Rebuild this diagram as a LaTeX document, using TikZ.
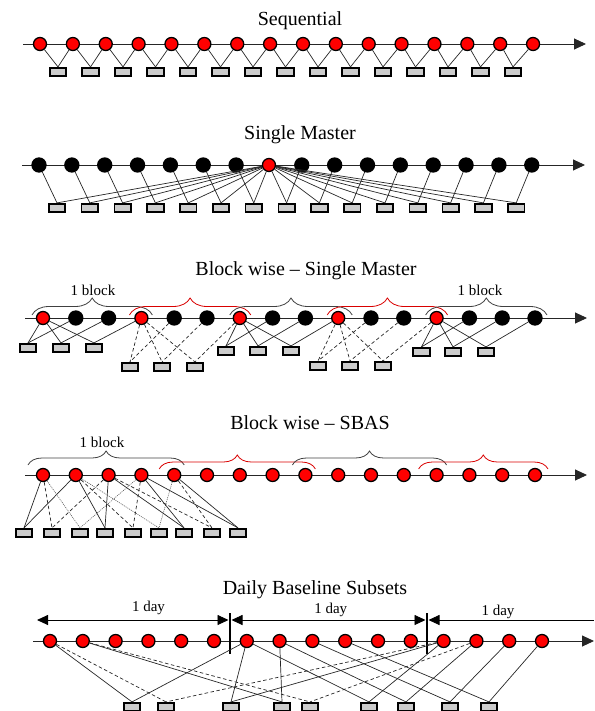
\documentclass[tikz,border=0pt]{standalone}
\usepackage{fontspec}
\setmainfont{Liberation Serif}
\usetikzlibrary{arrows.meta,decorations.pathreplacing,calc}
\begin{document}
\begin{tikzpicture}[x=1pt,y=-1pt,
  rc/.style={circle,draw=black,line width=1.3pt,fill=red,minimum size=13pt,inner sep=0pt},
  bc/.style={circle,draw=black,line width=1.3pt,fill=black,minimum size=14pt,inner sep=0pt},
  pbox/.style={rectangle,draw=black,line width=1.7pt,fill=black!20,minimum width=16.5pt,minimum height=8.5pt,inner sep=0pt},
  axis/.style={draw=black!85,line width=0.9pt,-{Triangle[length=12pt,width=11pt]}},
  conn/.style={draw=black!85,line width=0.7pt},
  dconn/.style={conn,dash pattern=on 3.5pt off 2.5pt},
  tconn/.style={draw=black!65,line width=0.6pt,dash pattern=on 1pt off 1pt},
  ttl/.style={font=\fontsize{20}{24}\selectfont,anchor=base,inner sep=0pt},
  lbl/.style={font=\fontsize{15}{18}\selectfont,anchor=base,inner sep=0pt},
  kbrace/.style={draw=black!75,line width=0.8pt,decorate,decoration={brace,amplitude=#1}},
  rbrace/.style={draw=red!85!black,line width=0.8pt,decorate,decoration={brace,amplitude=#1}},
  sep/.style={draw=black,line width=2pt},
  dayarr/.style={draw=black,line width=0.9pt},
]
\useasboundingbox (0,0) rectangle (594,711);

% ---------------- Sequential ----------------
\node[ttl] (t1) at (300,25.7) {Sequential};
\coordinate (a1s) at (23,44); \coordinate (a1e) at (586,44);
\draw[axis] (a1s) -- (a1e);
\foreach \i in {0,...,15} \node[rc] (s\i) at ({40+32.87*\i},44) {};
\foreach \i in {0,...,14} \node[pbox] (sb\i) at ({58+32.5*\i},72) {};
\foreach \i in {0,...,14} {
  \pgfmathtruncatemacro\j{\i+1}
  \draw[conn] (s\i) -- (sb\i.north);
  \draw[conn] (s\j) -- (sb\i.north);
}

% ---------------- Single Master ----------------
\node[ttl] (t2) at (300,139.5) {Single Master};
\coordinate (a2s) at (22,165); \coordinate (a2e) at (585,165);
\draw[axis] (a2s) -- (a2e);
\foreach \i in {0,...,15} {
  \ifnum\i=7 \node[rc] (m\i) at ({39+32.85*\i},165) {};
  \else \node[bc] (m\i) at ({39+32.85*\i},165) {}; \fi
}
\foreach \i in {0,...,14} \node[pbox] (mb\i) at ({57+32.8*\i},208) {};
\foreach \i in {0,...,6} \draw[conn] (m\i) -- (mb\i.north);
\foreach \i in {8,...,15} {\pgfmathtruncatemacro\k{\i-1}\draw[conn] (m\i) -- (mb\k.north);}
\foreach \k in {0,...,14} \draw[conn] (m7) -- (mb\k.north);

% ---------------- Block wise - Single Master ----------------
\node[ttl] (t3) at (306,275) {Block wise -- Single Master};
\coordinate (a3s) at (25,318); \coordinate (a3e) at (587,318);
\draw[axis] (a3s) -- (a3e);
\foreach \i in {0,...,15} {
  \pgfmathtruncatemacro\r{mod(\i,3)==0 && \i<15 ? 1 : 0}
  \ifnum\r=1 \node[rc] (k\i) at ({43+32.8*\i},318) {};
  \else \node[bc] (k\i) at ({43+32.8*\i},318) {}; \fi
}
% braces over the blocks
\draw[kbrace=17pt] ($(k0)+(-11,-3)$) -- ($(k3)+(11,-3)$);
\draw[rbrace=17pt] ($(k3)+(-12,-3)$) -- ($(k6)+(11,-3)$);
\draw[kbrace=17pt] ($(k6)+(-10,-3)$) -- ($(k9)+(14,-3)$);
\draw[rbrace=17pt] ($(k9)+(-11,-3)$) -- ($(k12)+(11,-3)$);
\draw[kbrace=17pt] ($(k12)+(-11,-3)$) -- ($(k15)+(12,-3)$);
\node[lbl] (lb1) at (93,295) {1 block};
\node[lbl] (lb2) at (480,295) {1 block};
% baseline boxes of each block
\foreach \n/\x/\y in {a0/28/348,a1/61/348,a2/94/348,
                      b0/130/367,b1/162/367,b2/195/367,
                      c0/226/351,c1/258/351,c2/291/351,
                      d0/318/366,d1/350/366,d2/383/366,
                      e0/421.5/352,e1/453/352,e2/486/352}
  \node[pbox] (p\n) at (\x,\y) {};
\foreach \g/\m/\st in {a/0/conn,b/3/dconn,c/6/conn,d/9/dconn,e/12/conn} {
  \foreach \j in {0,1,2} {
    \pgfmathtruncatemacro\s{\m+\j+1}
    \draw[\st] (k\m) -- (p\g\j.north);
    \draw[\st] (k\s) -- (p\g\j.north);
  }
}

% ---------------- Block wise - SBAS ----------------
\node[ttl] (t4) at (310,429.3) {Block wise -- SBAS};
\coordinate (a4s) at (25,475); \coordinate (a4e) at (587,475);
\draw[axis] (a4s) -- (a4e);
\foreach \i in {0,...,15} \node[rc] (q\i) at ({43+32.8*\i},475) {};
\draw[kbrace=14pt] ($(q0)+(-15,-10)$) -- ($(q4)+(10,-10)$);
\draw[rbrace=14pt] ($(q4)+(-15,-6)$) -- ($(q8)+(10,-6)$);
\draw[kbrace=14pt] ($(q8)+(-13,-10)$) -- ($(q12)+(10,-10)$);
\draw[rbrace=14pt] ($(q12)+(-18,-6)$) -- ($(q15)+(13,-6)$);
\node[lbl] (lb3) at (102,447) {1 block};
\foreach \i/\x in {0/24,1/52,2/80,3/105,4/133,5/159,6/184,7/212,8/238}
  \node[pbox] (qb\i) at (\x,533) {};
\foreach \r/\a/\b/\st in {0/0/1/conn,1/0/2/dconn,2/0/3/tconn,
                          3/1/2/conn,4/1/3/dconn,5/1/4/tconn,
                          6/2/3/conn,7/2/4/dconn,8/3/4/conn} {
  \draw[\st] (q\a) -- (qb\r.north);
  \draw[\st] (q\b) -- (qb\r.north);
}

% ---------------- Daily Baseline Subsets ----------------
\node[ttl] (t5) at (315,594.3) {Daily Baseline Subsets};
\coordinate (a5s) at (33,641); \coordinate (a5e) at (594,641);
\draw[axis] (a5s) -- (a5e);
\foreach \i in {0,...,15} \node[rc] (d\i) at ({50+32.8*\i},641) {};
% day separators
\coordinate (s1t) at (230,613); \coordinate (s1b) at (230,654);
\coordinate (s2t) at (427,613); \coordinate (s2b) at (427,654);
\draw[sep] (s1t) -- (s1b);
\draw[sep] (s2t) -- (s2b);
% day spans
\coordinate (r1a) at (37,620); \coordinate (r1b) at (228.5,620);
\coordinate (r2a) at (231.5,620); \coordinate (r2b) at (425.5,620);
\coordinate (r3a) at (428.5,620); \coordinate (r3b) at (594,620);
\draw[dayarr,{Triangle[length=11pt,width=10pt]}-{Triangle[length=11pt,width=10pt]}] (r1a) -- (r1b);
\draw[dayarr,{Triangle[length=11pt,width=10pt]}-{Triangle[length=11pt,width=10pt]}] (r2a) -- (r2b);
\draw[dayarr,{Triangle[length=11pt,width=10pt]}-] (r3a) -- (r3b);
\node[lbl] (ld1) at (148.5,611.5) {1 day};
\node[lbl] (ld2) at (330.7,613) {1 day};
\node[lbl] (ld3) at (498,615) {1 day};
\foreach \i/\x in {0/132,1/166,2/231,3/282,4/310,5/369,6/406,7/450,8/489}
  \node[pbox] (db\i) at (\x,707) {};
\foreach \r/\a/\b/\st in {0/0/6/conn,1/0/12/dconn,2/6/12/conn,
                          3/1/7/conn,4/1/13/dconn,
                          5/6/12/conn,6/7/13/conn,7/8/14/conn,8/9/15/conn} {
  \draw[\st] (d\a) -- (db\r.north);
  \draw[\st] (d\b) -- (db\r.north);
}
\end{tikzpicture}
\end{document}
